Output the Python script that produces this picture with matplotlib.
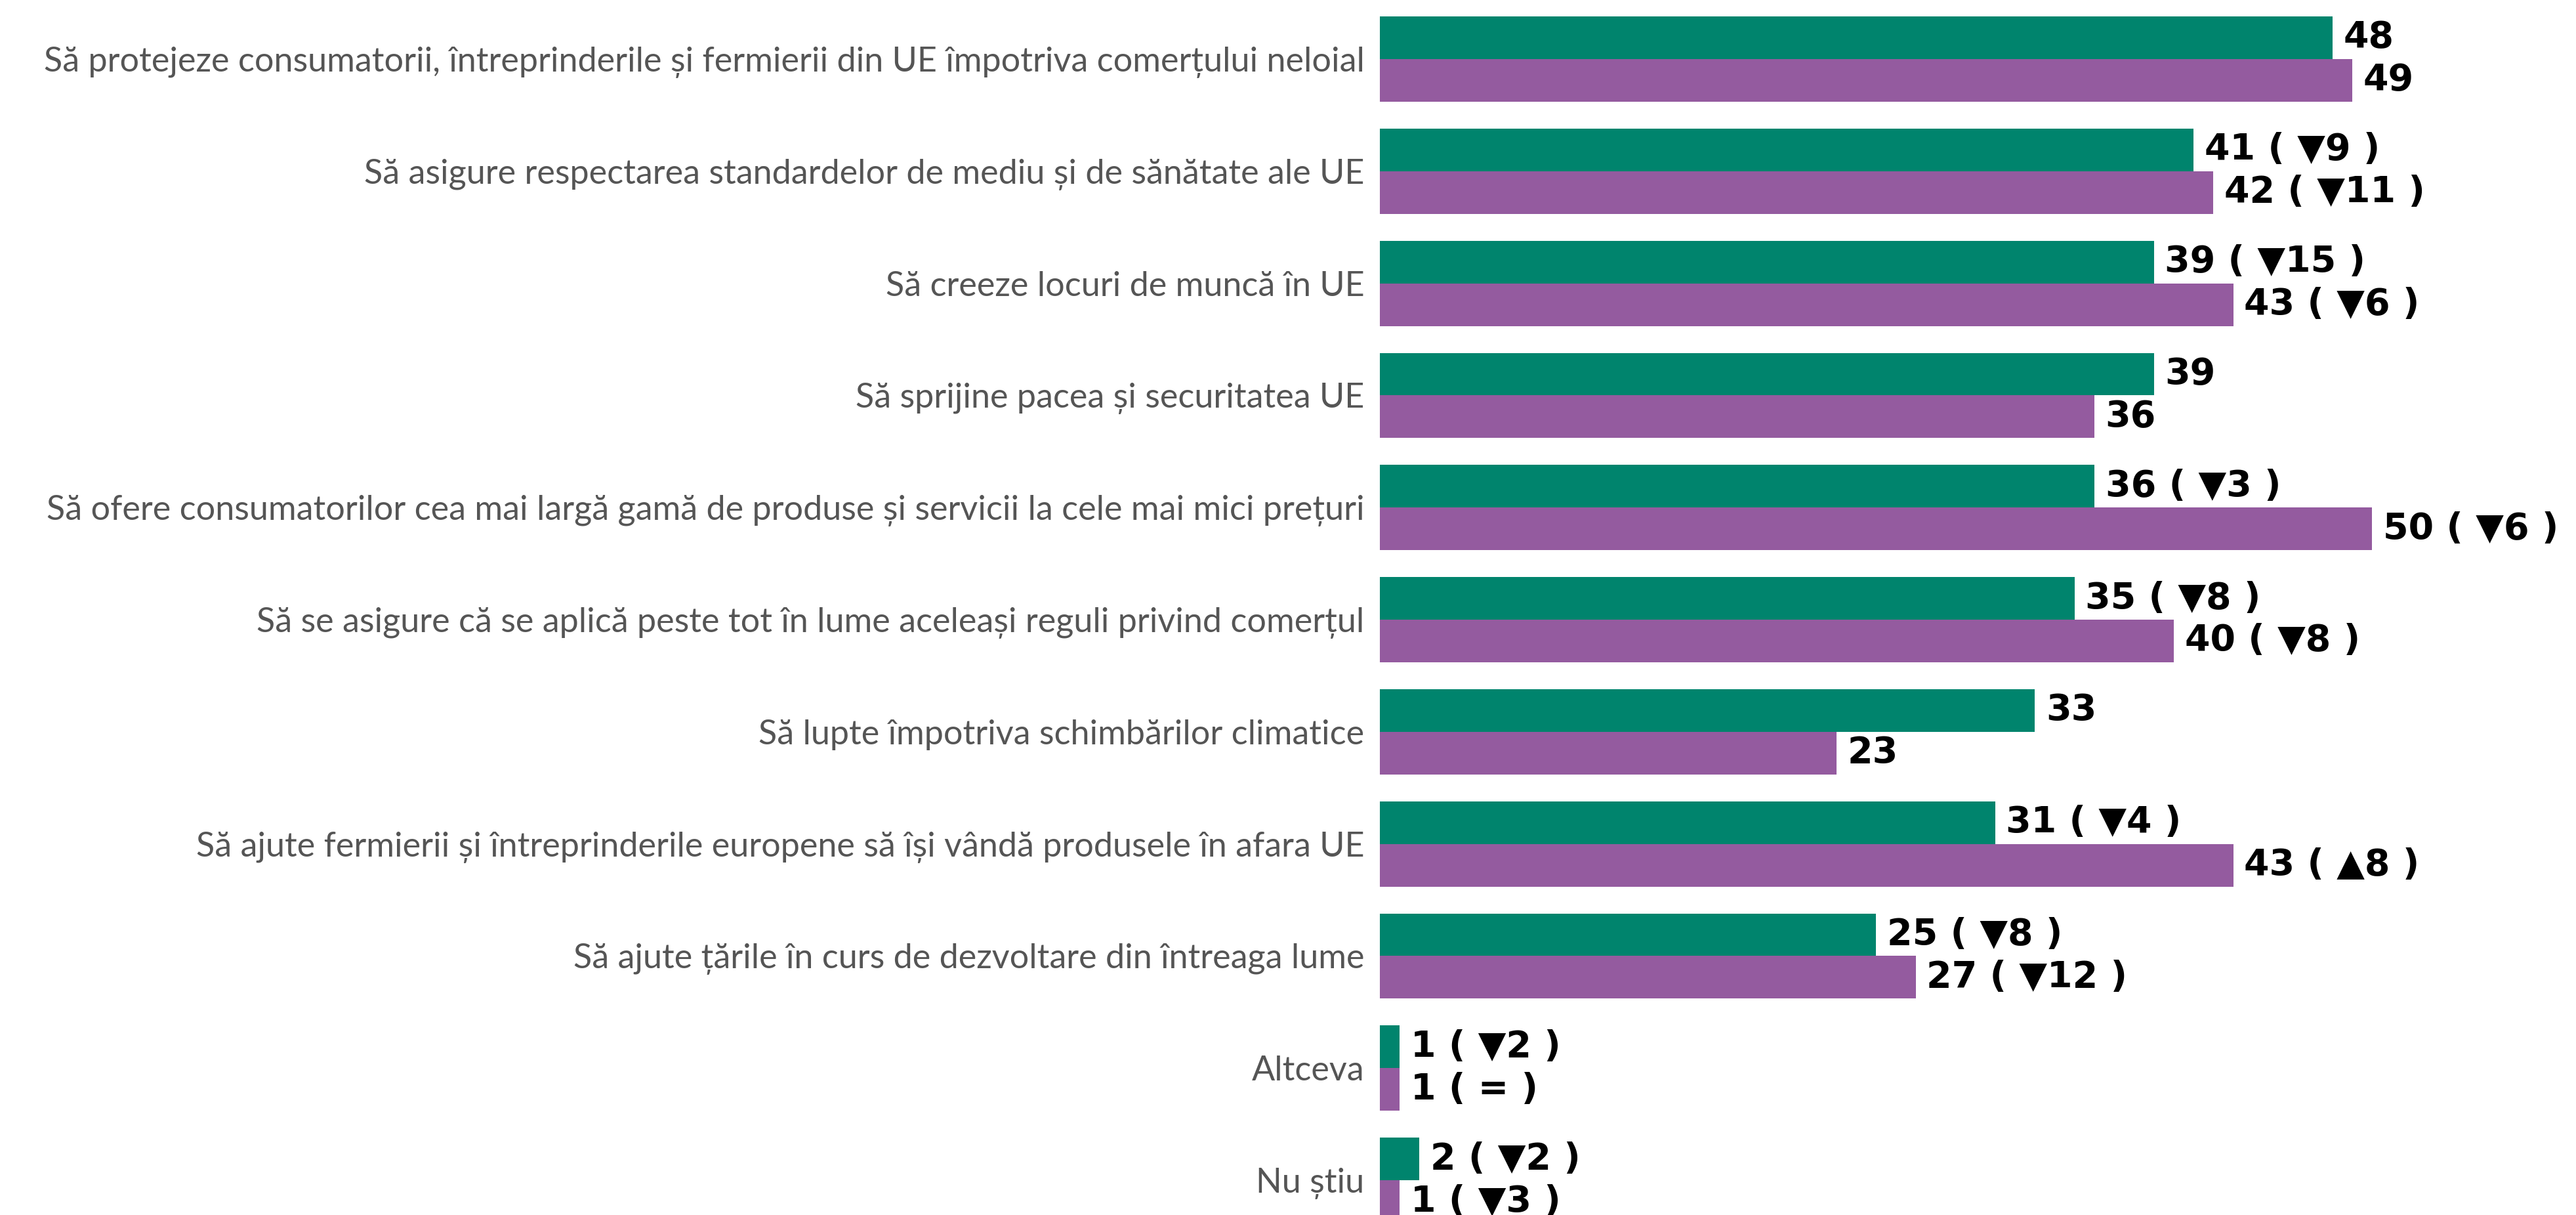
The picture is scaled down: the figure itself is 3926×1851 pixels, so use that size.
import matplotlib.pyplot as plt
import numpy as np

categories = [
    "Să protejeze consumatorii, întreprinderile și fermierii din UE împotriva comerțului neloial",
    "Să asigure respectarea standardelor de mediu și de sănătate ale UE",
    "Să creeze locuri de muncă în UE",
    "Să sprijine pacea și securitatea UE",
    "Să ofere consumatorilor cea mai largă gamă de produse și servicii la cele mai mici prețuri",
    "Să se asigure că se aplică peste tot în lume aceleași reguli privind comerțul",
    "Să lupte împotriva schimbărilor climatice",
    "Să ajute fermierii și întreprinderile europene să își vândă produsele în afara UE",
    "Să ajute țările în curs de dezvoltare din întreaga lume",
    "Altceva",
    "Nu știu",
]
green_values = [48, 41, 39, 39, 36, 35, 33, 31, 25, 1, 2]
purple_values = [49, 42, 43, 36, 50, 40, 23, 43, 27, 1, 1]
green_change = [None, -9, -15, None, -3, -8, None, -4, -8, -2, -2]
purple_change = [None, -11, -6, None, -6, -8, None, 8, -12, 0, -3]

GREEN = "#00846D"
PURPLE = "#945B9F"


def value_label(v, c):
    if c is None:
        return f"{v}"
    if c == 0:
        return f"{v} ( = )"
    arrow = "▼" if c < 0 else "▲"
    return f"{v} ( {arrow}{abs(c)} )"


fig = plt.figure(figsize=(39.26, 18.51), dpi=100)
ax = fig.add_axes([2103 / 3926, 0, 1 - 2103 / 3926, 1])

y = np.arange(len(categories))
h = 0.38
ax.barh(y - h / 2, green_values, height=h, color=GREEN)
ax.barh(y + h / 2, purple_values, height=h, color=PURPLE)

for i in range(len(categories)):
    ax.text(green_values[i] + 0.55, y[i] - h / 2, value_label(green_values[i], green_change[i]),
            va="center", ha="left", fontsize=40, fontweight="bold", color="black",
            family="DejaVu Sans")
    ax.text(purple_values[i] + 0.55, y[i] + h / 2, value_label(purple_values[i], purple_change[i]),
            va="center", ha="left", fontsize=40, fontweight="bold", color="black",
            family="DejaVu Sans")

ax.set_xlim(0, 60.27)
ax.set_ylim(10.31, -0.527)
ax.set_yticks(y)
ax.set_yticklabels(categories, fontsize=37.5, color="#555555", family="Lato")
ax.tick_params(axis="y", length=0, pad=17)
ax.set_xticks([])
for s in ax.spines.values():
    s.set_visible(False)

fig.savefig("out.png", dpi=100)
